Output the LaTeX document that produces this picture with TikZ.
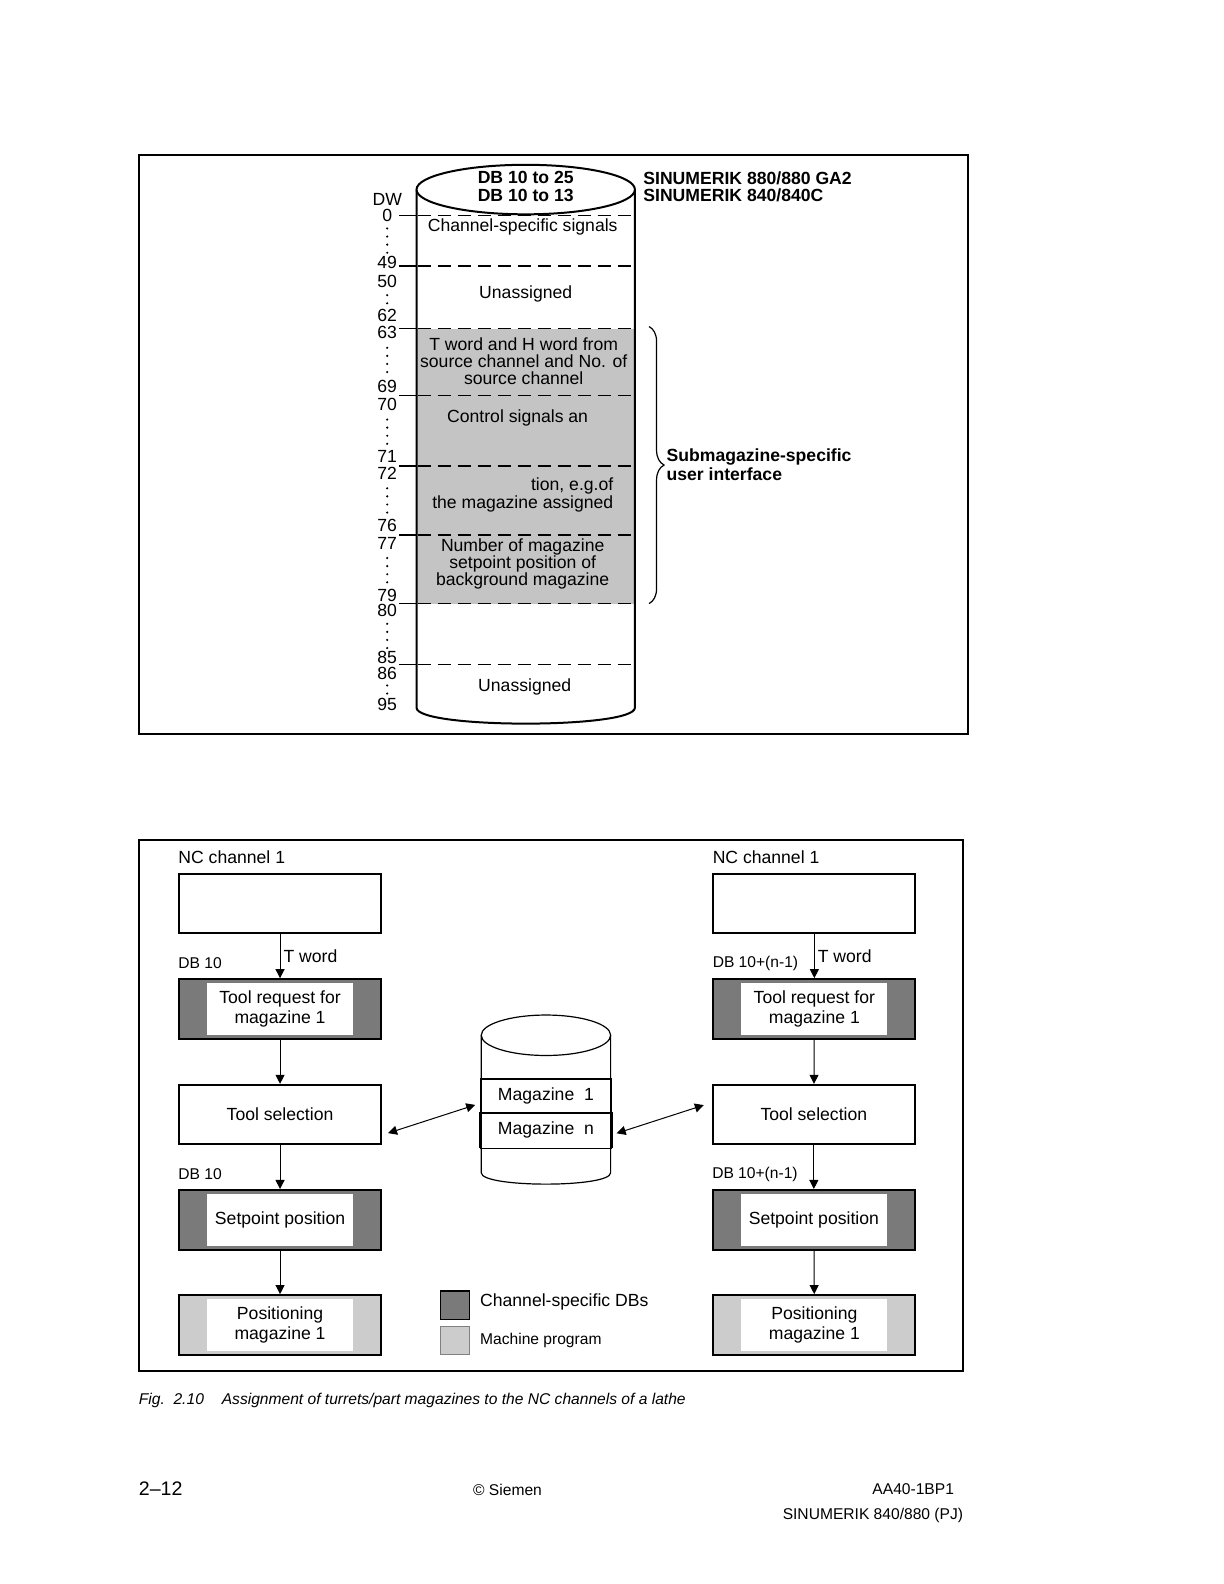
\documentclass[tikz,border=0pt]{standalone}
\usepackage{fontspec}
\setmainfont{Liberation Sans}
\usepackage{tikz}
\usetikzlibrary{arrows.meta, decorations.pathreplacing}
\definecolor{dbgray}{gray}{0.48}
\definecolor{mpgray}{gray}{0.8}
\definecolor{cylgray}{gray}{0.77}

\begin{document}
\begin{tikzpicture}[x=0.5055pt, y=-0.5055pt,
  every node/.style={inner sep=0pt},
  txt/.style={font=\fontsize{8.8}{8.6}\selectfont},
  sml/.style={font=\fontsize{7.8}{9}\selectfont},
  hdr/.style={font=\bfseries\fontsize{8.8}{8.6}\selectfont},
  blk/.style={draw, line width=1pt, minimum width=101pt, minimum height=29.8pt, align=center, font=\fontsize{8.8}{10.1}\selectfont},
  inner white/.style={path picture={\fill[white] ([xshift=14pt,yshift=-2pt]path picture bounding box.north west) rectangle ([xshift=-14pt,yshift=2pt]path picture bounding box.south east);}},
  dbblk/.style={blk, fill=dbgray, inner white},
  mpblk/.style={blk, fill=mpgray, inner white},
  magblk/.style={draw, line width=1pt, minimum width=64.7pt, minimum height=17.2pt, txt},
  legbox/.style={draw, line width=0.6pt, minimum size=14.2pt},
  flow/.style={line width=0.5pt, -{Triangle[length=4.5pt, width=4.5pt]}},
  dbl/.style={line width=0.5pt, {Triangle[length=4.5pt, width=4.5pt]}-{Triangle[length=4.5pt, width=4.5pt]}},
  cutline/.style={line width=0.7pt, dash pattern=on 6.5pt off 3.5pt},
]
\useasboundingbox (0pt,0pt) rectangle (612pt,-792pt);

% frames
\draw[line width=1pt] (137,153) rectangle (957,726);
\draw[line width=1pt] (137,831) rectangle (953,1356);

% data block cylinder
\fill[cylgray] (412,325) rectangle (628,597);
\draw[line width=1pt] (412,187.5) -- (412,700) .. controls (412,721) and (628,721) .. (628,700) -- (628,187.5);
\draw[line width=1pt, fill=white] (520,187.5) ellipse [x radius=108, y radius=24.5];
\foreach \y in {213,263,325,391,461,529,597,657} {
  \draw[line width=0.7pt] (395,\y) -- (411,\y);
  \draw[cutline] (413,\y) -- (627,\y);
}

% data word numbers
\node[txt] (dw) at (383,197) {DW};
\foreach \n/\y in {0/213,49/260,50/278,62/312,63/329,69/382,70/400,71/451,72/468,76/520,77/538,79/589,80/604,85/650,86/666,95/697}
  \node[txt] (dw\n) at (383,\y) {\n};
\foreach \y in {226,234,242,250, 292,300, 344,352,360,368, 415,423,431,439, 483,491,499,507, 552,560,568,576, 617,625,633,641, 678,686}
  \fill (383,\y) circle (0.6pt);

\node[hdr, align=center] (dbname) at (520,184.5) {DB 10 to 25\\DB 10 to 13};
\node[hdr, align=left, anchor=west] (sinu) at (636,184.5) {SINUMERIK 880/880 GA2\\SINUMERIK 840/840C};

\node[txt] (chsig) at (517,224) {Channel-specific signals};
\node[txt] (unas1) at (520,291) {Unassigned};
\node[txt, align=center] (tword) at (518,357) {T word and H word from\\source channel and No. of\\source channel};
\node[txt] (ctrl) at (512,413) {Control signals an};
\node[txt, align=right, anchor=east] (assign) at (607,489.5) {tion, e.g.of\\the magazine assigned};
\node[txt, align=center] (setp) at (517,558) {Number of magazine\\setpoint position of\\background magazine};
\node[txt] (unas2) at (519,679) {Unassigned};

% submagazine brace
\draw[line width=0.6pt, decorate, decoration={brace, amplitude=7.5pt}] (642,323) -- (642,597);
\node[hdr, font=\bfseries\fontsize{8.8}{9.6}\selectfont, align=left, anchor=west] (submag) at (659,459.5) {Submagazine-specific\\user interface};

% channel 1
\node[blk] (nc1) at (277,893.5) {};
\node[dbblk] (req1) at (277,998) {Tool request for\\magazine 1};
\node[blk] (sel1) at (277,1102.5) {Tool selection};
\node[dbblk] (set1) at (277,1206.5) {Setpoint position};
\node[mpblk] (pos1) at (277,1310.5) {Positioning\\magazine 1};
\node[txt, anchor=west] (nclbl1) at ([yshift=7.5pt]nc1.north west) {NC channel 1};
\node[sml, anchor=west] (dba1) at ([yshift=7.5pt]req1.north west) {DB 10};
\node[sml, anchor=west] (dbb1) at ([yshift=7.5pt]set1.north west) {DB 10};
\draw[flow] (nc1) -- node[txt, right=1.5pt] {T word} (req1);
\draw[flow] (req1) -- (sel1);
\draw[flow] (sel1) -- (set1);
\draw[flow] (set1) -- (pos1);

% channel n
\node[blk] (nc2) at (805.5,893.5) {};
\node[dbblk] (req2) at (805.5,998) {Tool request for\\magazine 1};
\node[blk] (sel2) at (805,1102.5) {Tool selection};
\node[dbblk] (set2) at (805,1206.5) {Setpoint position};
\node[mpblk] (pos2) at (805.5,1310.5) {Positioning\\magazine 1};
\node[txt, anchor=west] (nclbl2) at ([yshift=7.5pt]nc2.north west) {NC channel 1};
\node[sml, anchor=west] (dba2) at ([yshift=7.5pt]req2.north west) {DB 10+(n-1)};
\node[sml, anchor=west] (dbb2) at ([yshift=7.5pt]set2.north west) {DB 10+(n-1)};
\draw[flow] (nc2) -- node[txt, right=1.5pt] {T word} (req2);
\draw[flow] (req2) -- (sel2);
\draw[flow] (sel2) -- (set2);
\draw[flow] (set2) -- (pos2);

% magazine store
\draw[line width=0.6pt] (476,1024) -- (476,1160) .. controls (476,1175) and (604,1175) .. (604,1160) -- (604,1024);
\draw[line width=0.6pt] (540,1024) ellipse [x radius=64, y radius=20];
\node[magblk, fill=white] (mag1) at (540,1084) {Magazine~~1};
\node[magblk, draw=none] (magn) at (540,1118) {Magazine~~n};
\draw[line width=1pt] (magn.south west) -- (magn.north west) (magn.north east) -- (magn.south east);
\draw[line width=0.5pt] (magn.south west) -- (magn.south east);
\draw[dbl] ([xshift=3pt,yshift=-9.25pt]sel1.east) -- ([xshift=-2.5pt,yshift=-4.5pt]mag1.west);
\draw[dbl] ([xshift=2.5pt,yshift=-1.5pt]magn.east) -- ([xshift=-4pt,yshift=4.75pt]sel2.west);

% legend
\node[legbox, fill=dbgray] (legdb) at (450,1291) {};
\node[legbox, fill=mpgray, draw=black!50] (legmp) at (450,1326) {};
\node[txt, anchor=west] (legdbtxt) at ([xshift=5pt,yshift=1.5pt]legdb.east) {Channel-specific DBs};
\node[sml, anchor=west] (legmptxt) at ([xshift=5pt]legmp.east) {Machine program};

% caption and footer
\node[sml, font=\itshape\fontsize{7.8}{9}\selectfont, anchor=west] (fig) at (137,1385) {Fig.~~2.10};
\node[sml, font=\itshape\fontsize{7.8}{9}\selectfont, anchor=west] (cap) at (219,1385) {Assignment of turrets/part magazines to the NC channels of a lathe};
\node[font=\fontsize{9.8}{11}\selectfont, anchor=west] (page) at (137,1472) {2--12};
\node[sml] (copy) at (502,1474) {© Siemen};
\node[sml, anchor=east] (order) at (944,1473) {AA40-1BP1};
\node[sml, anchor=east] (prod) at (953,1499) {SINUMERIK 840/880 (PJ)};
\end{tikzpicture}
\end{document}
